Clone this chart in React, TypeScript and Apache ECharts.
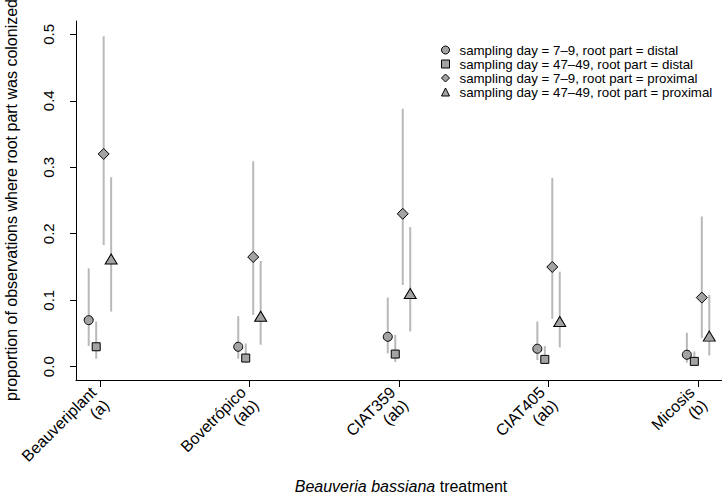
import React, { useEffect, useRef } from "react";
import * as echarts from "echarts";

const categories = ["Beauveriplant\n(a)", "Bovetrópico\n(ab)", "CIAT359\n(ab)", "CIAT405\n(ab)", "Micosis\n(b)"];
const yTicks = [0, 0.1, 0.2, 0.3, 0.4, 0.5];

const seriesNames = [
  "sampling day = 7–9, root part = distal",
  "sampling day = 47–49, root part = distal",
  "sampling day = 7–9, root part = proximal",
  "sampling day = 47–49, root part = proximal",
];

// estimates and 95% intervals, one array per group
const distalEarlyEst = [0.070, 0.030, 0.045, 0.027, 0.018];
const distalEarlyLo = [0.031, 0.012, 0.020, 0.010, 0.006];
const distalEarlyHi = [0.148, 0.076, 0.104, 0.068, 0.051];

const distalLateEst = [0.030, 0.013, 0.019, 0.011, 0.008];
const distalLateLo = [0.012, 0.006, 0.007, 0.005, 0.004];
const distalLateHi = [0.068, 0.035, 0.048, 0.031, 0.023];

const proximalEarlyEst = [0.320, 0.165, 0.230, 0.150, 0.104];
const proximalEarlyLo = [0.183, 0.078, 0.123, 0.072, 0.043];
const proximalEarlyHi = [0.497, 0.309, 0.388, 0.284, 0.226];

const proximalLateEst = [0.162, 0.076, 0.110, 0.068, 0.046];
const proximalLateLo = [0.083, 0.033, 0.053, 0.029, 0.017];
const proximalLateHi = [0.285, 0.159, 0.210, 0.143, 0.108];

const offsets = [-0.075, -0.025, 0.025, 0.075];
const symbols = ["circle", "rect", "diamond", "triangle"];
const symbolSizes: any[] = [9, 8, 11, [12, 10]];

const FONT = "'Liberation Sans', Arial, Helvetica, sans-serif";
const MARK_FILL = "#a3a3a3";
const BAR_COLOR = "#b9b9b9";

export default function App() {
  const ref = useRef<HTMLDivElement>(null);

  useEffect(() => {
    if (!ref.current) return;
    const chart = echarts.init(ref.current, null, { renderer: "svg" });

    const groups = [
      [distalEarlyEst, distalEarlyLo, distalEarlyHi],
      [distalLateEst, distalLateLo, distalLateHi],
      [proximalEarlyEst, proximalEarlyLo, proximalEarlyHi],
      [proximalLateEst, proximalLateLo, proximalLateHi],
    ];

    const barData: number[][] = [];
    groups.forEach((g, gi) => {
      g[0].forEach((_, i) => {
        barData.push([i + 1 + offsets[gi], g[1][i], g[2][i]]);
      });
    });

    const scatterSeries = groups.map((g, gi) => ({
      type: "scatter",
      name: seriesNames[gi],
      symbol: symbols[gi],
      symbolSize: symbolSizes[gi],
      z: 3,
      itemStyle: { color: MARK_FILL, borderColor: "#000", borderWidth: 1, opacity: 1 },
      emphasis: { disabled: true },
      data: g[0].map((v, i) => [i + 1 + offsets[gi], v]),
    }));

    const option: any = {
      animation: false,
      textStyle: { fontFamily: FONT },
      grid: { left: 76, right: 0, top: 21, bottom: 115 },
      xAxis: {
        type: "value",
        min: 0.84,
        max: 5.16,
        splitLine: { show: false },
        axisLine: { show: true, onZero: false, lineStyle: { color: "#000", width: 1 } },
        axisTick: { show: true, customValues: [1, 2, 3, 4, 5], length: 7, lineStyle: { color: "#000" } },
        axisLabel: {
          customValues: [1, 2, 3, 4, 5],
          formatter: (v: number) => categories[Math.round(v) - 1],
          rotate: 45,
          margin: 16,
          padding: [14, 0, 0, 0],
          fontSize: 16,
          lineHeight: 18,
          color: "#000",
          fontFamily: FONT,
        },
      },
      yAxis: {
        type: "value",
        min: -0.02,
        max: 0.52,
        splitLine: { show: false },
        axisLine: { show: true, onZero: false, lineStyle: { color: "#000", width: 1 } },
        axisTick: { show: true, customValues: yTicks, length: 6, lineStyle: { color: "#000" } },
        axisLabel: {
          customValues: yTicks,
          formatter: (v: number) => v.toFixed(1),
          rotate: 90,
          margin: 20,
          fontSize: 15,
          color: "#000",
          fontFamily: FONT,
        },
      },
      legend: {
        orient: "vertical",
        left: 441,
        top: 43,
        padding: 0,
        itemWidth: 8,
        itemHeight: 8,
        itemGap: 0,
        selectedMode: false,
        data: seriesNames,
        textStyle: { fontSize: 13.3, color: "#000", lineHeight: 14, fontFamily: FONT, padding: [0, 0, 0, 5] },
        itemStyle: { borderColor: "#000", borderWidth: 1 },
      },
      graphic: [
        {
          type: "text",
          x: 11,
          y: 200,
          rotation: Math.PI / 2,
          style: {
            text: "proportion of observations where root part was colonized",
            fontSize: 16,
            fontFamily: FONT,
            fill: "#000",
            align: "center",
            verticalAlign: "middle",
          },
        },
        {
          type: "text",
          x: 401,
          y: 486,
          style: {
            text: "{i|Beauveria bassiana} treatment",
            fontSize: 16,
            fontFamily: FONT,
            fill: "#000",
            align: "center",
            verticalAlign: "middle",
            rich: {
              i: { fontStyle: "italic", fontSize: 16, fontFamily: FONT, fill: "#000" },
            },
          },
        },
      ],
      series: [
        {
          type: "custom",
          name: "ci",
          z: 2,
          silent: true,
          renderItem: (params: any, api: any) => {
            const x = api.value(0);
            const p1 = api.coord([x, api.value(1)]);
            const p2 = api.coord([x, api.value(2)]);
            return {
              type: "line",
              shape: { x1: p1[0], y1: p1[1], x2: p2[0], y2: p2[1] },
              style: { stroke: BAR_COLOR, lineWidth: 2 },
            };
          },
          encode: { x: 0, y: [1, 2] },
          data: barData,
        },
        ...scatterSeries,
      ],
    };

    chart.setOption(option);
    return () => chart.dispose();
  }, []);

  return (
    <div
      ref={ref}
      style={{ position: "absolute", left: 0, top: 0, width: 722, height: 495, background: "#fff" }}
    />
  );
}
